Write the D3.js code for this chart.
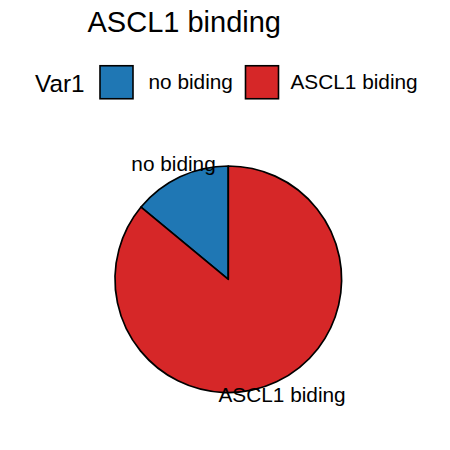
<!DOCTYPE html>
<html>
<head>
<meta charset="utf-8">
<script src="https://cdn.jsdelivr.net/npm/d3@7"></script>
<style>
  html, body { margin: 0; padding: 0; background: #fff; }
  svg { display: block; font-family: "Liberation Sans", Arial, sans-serif; }
</style>
</head>
<body>
<svg id="chart" width="450" height="450"></svg>
<script>
const categories = ["no biding", "ASCL1 biding"];
const values = [14, 86];
const colors = ["#1f77b4", "#d62728"];
const titleText = "ASCL1 binding";
const legendTitle = "Var1";

const svg = d3.select("#chart");
svg.append("rect").attr("width", 450).attr("height", 450).attr("fill", "#fff");

// Title
svg.append("text")
  .attr("x", 87.5).attr("y", 32)
  .attr("font-size", 29)
  .attr("fill", "#000")
  .text(titleText);

// Legend
const legend = svg.append("g");
legend.append("text")
  .attr("x", 35).attr("y", 92.3)
  .attr("font-size", 24.3)
  .text(legendTitle);

const color = d3.scaleOrdinal().domain(categories).range(colors);
const boxX = [100, 245.5];
const labX = [148.5, 290.5];
categories.forEach((c, i) => {
  legend.append("rect")
    .attr("x", boxX[i]).attr("y", 65.75)
    .attr("width", 33).attr("height", 33)
    .attr("fill", color(c))
    .attr("stroke", "#000").attr("stroke-width", 1.6);
  legend.append("text")
    .attr("x", labX[i]).attr("y", 88.5)
    .attr("font-size", 20.8)
    .text(c);
});

// Pie
const cx = 228.3, cy = 279.3, R = 113.3;
const pie = d3.pie().sort(null).startAngle(0).endAngle(-2 * Math.PI);
const data = categories.map((c, i) => ({ cat: c, val: values[i] }));
const arcs = pie.value(d => d.val)(data);
const arc = d3.arc().innerRadius(0).outerRadius(R);
const labelArc = d3.arc().innerRadius(127.5).outerRadius(127.5);

const g = svg.append("g").attr("transform", `translate(${cx},${cy})`);
g.selectAll("path.slice")
  .data(arcs)
  .join("path")
  .attr("class", "slice")
  .attr("d", arc)
  .attr("fill", d => color(d.data.cat))
  .attr("stroke", "#000")
  .attr("stroke-width", 1.7)
  .attr("stroke-linejoin", "round");

g.selectAll("text.lab")
  .data(arcs)
  .join("text")
  .attr("class", "lab")
  .attr("x", d => labelArc.centroid(d)[0] - 0.5)
  .attr("y", d => labelArc.centroid(d)[1] + 7.3)
  .attr("text-anchor", "middle")
  .attr("font-size", 20.8)
  .text(d => d.data.cat);
</script>
</body>
</html>
